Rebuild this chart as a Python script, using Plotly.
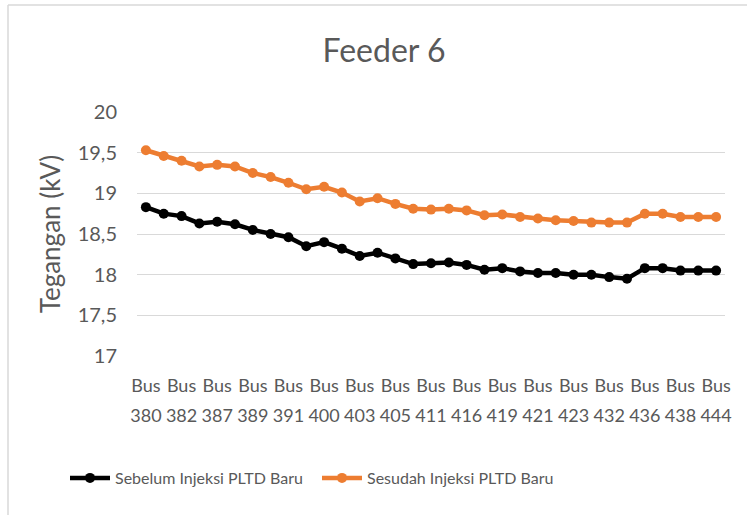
import plotly.graph_objects as go

buses = ["380", "381", "382", "384", "387", "388", "389", "390", "391", "398",
         "400", "401", "403", "404", "405", "408", "411", "413", "416", "418",
         "419", "420", "421", "422", "423", "430", "432", "434", "436", "437",
         "438", "440", "444"]
categories = ["Bus " + b for b in buses]

sebelum = [18.83, 18.75, 18.72, 18.63, 18.65, 18.62, 18.55, 18.50, 18.46, 18.35,
           18.40, 18.32, 18.23, 18.27, 18.20, 18.13, 18.14, 18.15, 18.12, 18.06,
           18.08, 18.04, 18.02, 18.02, 18.00, 18.00, 17.97, 17.95, 18.08, 18.08,
           18.05, 18.05, 18.05]
sesudah = [19.53, 19.46, 19.40, 19.33, 19.35, 19.33, 19.25, 19.20, 19.13, 19.05,
           19.08, 19.01, 18.90, 18.94, 18.87, 18.81, 18.80, 18.81, 18.79, 18.73,
           18.74, 18.71, 18.69, 18.67, 18.66, 18.64, 18.64, 18.64, 18.75, 18.75,
           18.71, 18.71, 18.71]

y_ticks = [17, 17.5, 18, 18.5, 19, 19.5, 20]
y_ticktext = ["17", "17,5", "18", "18,5", "19", "19,5", "20"]

tick_cats = categories[::2]
tick_text = ["<span style='font-size:18px'>Bus</span><br><span style='font-size:18px'>%s</span>" % c.split()[1]
             for c in tick_cats]

FONT = "Lato"
GRAY = "#595959"

fig = go.Figure()
fig.add_trace(go.Scatter(x=categories, y=sebelum, mode="lines+markers",
                         name="Sebelum Injeksi PLTD Baru",
                         line=dict(color="#000000", width=4.5),
                         marker=dict(color="#000000", size=10)))
fig.add_trace(go.Scatter(x=categories, y=sesudah, mode="lines+markers",
                         name="Sesudah Injeksi PLTD Baru",
                         line=dict(color="#ED7D31", width=4.5),
                         marker=dict(color="#ED7D31", size=10)))

W, H = 747, 515
L, R, T, B = 137, 22, 112, 159
pw, ph = W - L - R, H - T - B

def px(x):
    return (x - L) / pw

def py(y):
    return (H - B - y) / ph

fig.update_layout(
    width=W, height=H,
    margin=dict(l=L, r=R, t=T, b=B, autoexpand=False),
    paper_bgcolor="white", plot_bgcolor="white",
    font=dict(family=FONT, color=GRAY),
    title=dict(text="Feeder 6", font=dict(size=32, color=GRAY, family=FONT),
               x=384 / W, xanchor="center", y=1 - 51 / H, yanchor="middle",
               xref="container", yref="container"),
    xaxis=dict(type="category", tickmode="array", tickvals=tick_cats, ticktext=tick_text,
               range=[-0.5, len(categories) - 0.5],
               tickangle=0, tickfont=dict(size=23, color=GRAY, family=FONT),
               showgrid=False, showline=False, zeroline=False, ticks="",
               ticklabelstandoff=12, automargin=False),
    yaxis=dict(range=[17, 20], tickmode="array", tickvals=y_ticks, ticktext=y_ticktext,
               tickfont=dict(size=20, color=GRAY, family=FONT),
               showgrid=True, gridcolor="#D9D9D9", gridwidth=1.3,
               zeroline=False, showline=False, ticks="", ticklabelstandoff=19,
               automargin=False,
               title=dict(text="Tegangan (kV)", font=dict(size=26, color=GRAY, family=FONT),
                          standoff=9)),
    legend=dict(orientation="h", x=px(65), xanchor="left", y=py(478), yanchor="middle",
                font=dict(size=16, color=GRAY, family=FONT), itemwidth=40,
                entrywidth=197, entrywidthmode="pixels", bgcolor="rgba(0,0,0,0)"),
    showlegend=True,
    shapes=[
        dict(type="line", xref="paper", yref="paper", x0=px(8), x1=px(747), y0=py(5), y1=py(5),
             line=dict(color="#D9D9D9", width=1.5)),
        dict(type="line", xref="paper", yref="paper", x0=px(8), x1=px(8), y0=py(5), y1=py(515),
             line=dict(color="#D9D9D9", width=1.5)),
    ],
)

fig.write_html("out.html", config={"displayModeBar": False},
               post_script="document.body.style.margin='0';")
